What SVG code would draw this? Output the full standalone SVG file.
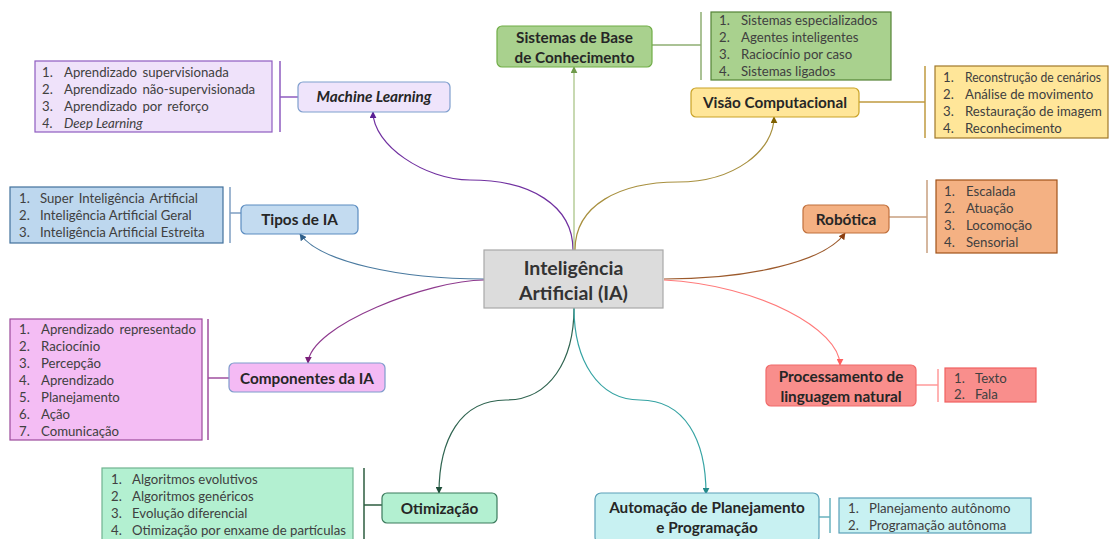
<svg xmlns="http://www.w3.org/2000/svg" width="1109" height="539" viewBox="0 0 1109 539">
<style>
.lbl{font-family:Lato,"Liberation Sans",sans-serif;font-weight:bold;font-size:15.3px;fill:#262626;text-anchor:middle;dominant-baseline:central}
.ctr{font-family:Lato,"Liberation Sans",sans-serif;font-weight:bold;font-size:19.5px;fill:#333;text-anchor:middle;dominant-baseline:central}
.it{font-family:Lato,"Liberation Sans",sans-serif;font-size:13.2px;fill:#404040;dominant-baseline:central}
.node{stroke-width:1.2}
.lst{stroke-width:1.2}
.sep{stroke-width:1.5;fill:none}
.con{fill:none;stroke-width:1.2}
</style>
<defs>
<marker id="aML" viewBox="0 0 10 10" refX="9" refY="5" markerWidth="7" markerHeight="7" orient="auto" markerUnits="userSpaceOnUse"><path d="M0,0 L10,5 L0,10 z" fill="#5a1f94"/></marker>
<marker id="aSB" viewBox="0 0 10 10" refX="9" refY="5" markerWidth="7" markerHeight="7" orient="auto" markerUnits="userSpaceOnUse"><path d="M0,0 L10,5 L0,10 z" fill="#6f9a4a"/></marker>
<marker id="aVC" viewBox="0 0 10 10" refX="9" refY="5" markerWidth="7" markerHeight="7" orient="auto" markerUnits="userSpaceOnUse"><path d="M0,0 L10,5 L0,10 z" fill="#7f6000"/></marker>
<marker id="aTI" viewBox="0 0 10 10" refX="9" refY="5" markerWidth="7" markerHeight="7" orient="auto" markerUnits="userSpaceOnUse"><path d="M0,0 L10,5 L0,10 z" fill="#2f5f8a"/></marker>
<marker id="aRO" viewBox="0 0 10 10" refX="9" refY="5" markerWidth="7" markerHeight="7" orient="auto" markerUnits="userSpaceOnUse"><path d="M0,0 L10,5 L0,10 z" fill="#8b3e10"/></marker>
<marker id="aCO" viewBox="0 0 10 10" refX="9" refY="5" markerWidth="7" markerHeight="7" orient="auto" markerUnits="userSpaceOnUse"><path d="M0,0 L10,5 L0,10 z" fill="#7a1f7a"/></marker>
<marker id="aPL" viewBox="0 0 10 10" refX="9" refY="5" markerWidth="7" markerHeight="7" orient="auto" markerUnits="userSpaceOnUse"><path d="M0,0 L10,5 L0,10 z" fill="#ff6060"/></marker>
<marker id="aOT" viewBox="0 0 10 10" refX="9" refY="5" markerWidth="7" markerHeight="7" orient="auto" markerUnits="userSpaceOnUse"><path d="M0,0 L10,5 L0,10 z" fill="#1f4f3a"/></marker>
<marker id="aAU" viewBox="0 0 10 10" refX="9" refY="5" markerWidth="7" markerHeight="7" orient="auto" markerUnits="userSpaceOnUse"><path d="M0,0 L10,5 L0,10 z" fill="#238a8a"/></marker>
</defs>
<rect width="1109" height="539" fill="#ffffff"/>

<g id="connectors">
<path class="con" stroke="#7030a0" d="M573 250 C573 205 530 180 470 180 C425 180 373 145 373 112" marker-end="url(#aML)"/>
<path class="con" stroke="#a3c07f" d="M574 250 L574 67" marker-end="url(#aSB)"/>
<path class="con" stroke="#a8903f" d="M575 250 C575 205 620 182 678 182 C735 182 774 150 774 117" marker-end="url(#aVC)"/>
<path class="con" stroke="#4a7aa0" d="M484 279 C400 279 320 262 300 234" marker-end="url(#aTI)"/>
<path class="con" stroke="#9c5a2c" d="M664 279 C748 279 825 262 845 233" marker-end="url(#aRO)"/>
<path class="con" stroke="#8e3a8e" d="M484 280 C430 280 310 325 308 363" marker-end="url(#aCO)"/>
<path class="con" stroke="#ff7a7a" d="M664 280 C760 285 840 330 840 365" marker-end="url(#aPL)"/>
<path class="con" stroke="#2f6450" d="M574 308 C574 360 550 400 506 400 C460 400 439 440 439 493" marker-end="url(#aOT)"/>
<path class="con" stroke="#35a3a3" d="M574 308 C574 360 598 400 640 400 C685 400 706 440 706 494" marker-end="url(#aAU)"/>
<path class="sep" stroke="#8e5cc0" d="M280 61 V132 M280 97 H298"/>
<path class="sep" stroke="#8fae73" d="M701 12 V80 M652 45 H701"/>
<path class="sep" stroke="#c09a40" d="M925 66 V138 M859 102 H925"/>
<path class="sep" stroke="#7f9fc2" d="M230 187 V243 M230 213 H241"/>
<path class="sep" stroke="#c8a080" d="M927 180 V253 M889 217 H927"/>
<path class="sep" stroke="#a050a0" d="M208 319 V440 M208 378 H229"/>
<path class="sep" stroke="#ff9a9a" d="M938 369 V402 M916 385 H938"/>
<path class="sep" stroke="#2e5e40" d="M364 468 V539 M364 505 H382"/>
<path class="sep" stroke="#6ab3bf" d="M830 498 V533 M819 517 H830"/>
</g>

<g id="center">
<rect x="484" y="250" width="179" height="58" fill="#dcdcdc" stroke="#a8a8a8" stroke-width="1.2"/>
<text class="ctr" x="573.5" y="267">Inteligência</text>
<text class="ctr" x="573.5" y="292">Artificial (IA)</text>
</g>

<g id="machine-learning">
<rect class="node" x="298" y="82" width="152" height="30" rx="5" fill="#efe4fb" stroke="#7f9fce"/>
<text class="lbl" x="374" y="96" font-style="italic">Machine Learning</text>
</g>
<g id="machine-learning-list">
<rect class="lst" x="35" y="61" width="237" height="71" fill="#efe2fa" stroke="#8e5cc0"/>
<text class="it" x="42" y="72">1.</text><text class="it" x="64" y="72" word-spacing="2">Aprendizado supervisionada</text>
<text class="it" x="42" y="89">2.</text><text class="it" x="64" y="89" word-spacing="2">Aprendizado não-supervisionada</text>
<text class="it" x="42" y="106">3.</text><text class="it" x="64" y="106" word-spacing="2">Aprendizado por reforço</text>
<text class="it" x="42" y="123" font-style="italic">4.</text><text class="it" x="64" y="123" font-style="italic">Deep Learning</text>
</g>

<g id="sistemas-base">
<rect class="node" x="497" y="26" width="155" height="41" rx="5" fill="#a9d18e" stroke="#70ad47"/>
<text class="lbl" x="574.5" y="36.5">Sistemas de Base</text>
<text class="lbl" x="574.5" y="56.5">de Conhecimento</text>
</g>
<g id="sistemas-base-list">
<rect class="lst" x="711" y="12" width="180" height="68" fill="#a9d18e" stroke="#548235"/>
<text class="it" x="719" y="20">1.</text><text class="it" x="741" y="20">Sistemas especializados</text>
<text class="it" x="719" y="37">2.</text><text class="it" x="741" y="37">Agentes inteligentes</text>
<text class="it" x="719" y="54">3.</text><text class="it" x="741" y="54">Raciocínio por caso</text>
<text class="it" x="719" y="71">4.</text><text class="it" x="741" y="71">Sistemas ligados</text>
</g>

<g id="visao-computacional">
<rect class="node" x="691" y="88" width="168" height="29" rx="5" fill="#ffe699" stroke="#c9a227"/>
<text class="lbl" x="775" y="102">Visão Computacional</text>
</g>
<g id="visao-computacional-list">
<rect class="lst" x="935" y="66" width="173" height="72" fill="#ffe699" stroke="#a0782a"/>
<text class="it" x="943" y="77">1.</text><text class="it" x="965" y="77" font-size="12.6px" textLength="136" lengthAdjust="spacingAndGlyphs">Reconstrução de cenários</text>
<text class="it" x="943" y="94">2.</text><text class="it" x="965" y="94">Análise de movimento</text>
<text class="it" x="943" y="111">3.</text><text class="it" x="965" y="111">Restauração de imagem</text>
<text class="it" x="943" y="128">4.</text><text class="it" x="965" y="128">Reconhecimento</text>
</g>

<g id="tipos-ia">
<rect class="node" x="241" y="205" width="117" height="29" rx="5" fill="#c3dbf0" stroke="#5b8cc0"/>
<text class="lbl" x="299.5" y="219">Tipos de IA</text>
</g>
<g id="tipos-ia-list">
<rect class="lst" x="10" y="187" width="213" height="56" fill="#bdd7ee" stroke="#41719c"/>
<text class="it" x="19" y="198">1.</text><text class="it" x="40" y="198" word-spacing="2">Super Inteligência Artificial</text>
<text class="it" x="19" y="215">2.</text><text class="it" x="40" y="215">Inteligência Artificial Geral</text>
<text class="it" x="19" y="232">3.</text><text class="it" x="40" y="232">Inteligência Artificial Estreita</text>
</g>

<g id="robotica">
<rect class="node" x="803" y="205" width="86" height="28" rx="5" fill="#f4b183" stroke="#c0703c"/>
<text class="lbl" x="846" y="218.5">Robótica</text>
</g>
<g id="robotica-list">
<rect class="lst" x="936" y="180" width="121" height="73" fill="#f4b183" stroke="#a0521a"/>
<text class="it" x="944" y="191">1.</text><text class="it" x="966" y="191">Escalada</text>
<text class="it" x="944" y="208">2.</text><text class="it" x="966" y="208">Atuação</text>
<text class="it" x="944" y="225">3.</text><text class="it" x="966" y="225">Locomoção</text>
<text class="it" x="944" y="242">4.</text><text class="it" x="966" y="242">Sensorial</text>
</g>

<g id="componentes-ia">
<rect class="node" x="229" y="363" width="156" height="29" rx="5" fill="#f4baf4" stroke="#7f9ccc"/>
<text class="lbl" x="307" y="377.5">Componentes da IA</text>
</g>
<g id="componentes-ia-list">
<rect class="lst" x="10" y="319" width="192" height="121" fill="#f4bdf4" stroke="#9b4a9b"/>
<text class="it" x="19" y="329">1.</text><text class="it" x="41" y="329" word-spacing="2">Aprendizado representado</text>
<text class="it" x="19" y="346">2.</text><text class="it" x="41" y="346">Raciocínio</text>
<text class="it" x="19" y="363">3.</text><text class="it" x="41" y="363">Percepção</text>
<text class="it" x="19" y="380">4.</text><text class="it" x="41" y="380">Aprendizado</text>
<text class="it" x="19" y="397">5.</text><text class="it" x="41" y="397">Planejamento</text>
<text class="it" x="19" y="414">6.</text><text class="it" x="41" y="414">Ação</text>
<text class="it" x="19" y="431">7.</text><text class="it" x="41" y="431">Comunicação</text>
</g>

<g id="processamento-linguagem">
<rect class="node" x="766" y="365" width="150" height="41" rx="5" fill="#f98e8c" stroke="#f06a6a"/>
<text class="lbl" x="841" y="376">Processamento de</text>
<text class="lbl" x="841" y="395.5">linguagem natural</text>
</g>
<g id="processamento-linguagem-list">
<rect class="lst" x="945" y="368" width="91" height="34" fill="#f98e8c" stroke="#f06060"/>
<text class="it" x="954" y="378">1.</text><text class="it" x="975" y="378">Texto</text>
<text class="it" x="954" y="394">2.</text><text class="it" x="975" y="394">Fala</text>
</g>

<g id="otimizacao">
<rect class="node" x="382" y="493" width="115" height="30" rx="5" fill="#b3f0d1" stroke="#3b7a5c"/>
<text class="lbl" x="439.5" y="507.5">Otimização</text>
</g>
<g id="otimizacao-list">
<rect class="lst" x="102" y="468" width="251" height="80" fill="#b3f0d1" stroke="#6fb38f"/>
<text class="it" x="111" y="479">1.</text><text class="it" x="132" y="479">Algoritmos evolutivos</text>
<text class="it" x="111" y="496">2.</text><text class="it" x="132" y="496">Algoritmos genéricos</text>
<text class="it" x="111" y="513">3.</text><text class="it" x="132" y="513">Evolução diferencial</text>
<text class="it" x="111" y="530">4.</text><text class="it" x="132" y="530">Otimização por enxame de partículas</text>
</g>

<g id="automacao-planejamento">
<rect class="node" x="595" y="493" width="224" height="50" rx="6" fill="#c8f1f2" stroke="#5aa0b8"/>
<text class="lbl" x="707" y="506.5">Automação de Planejamento</text>
<text class="lbl" x="707" y="526.5">e Programação</text>
</g>
<g id="automacao-planejamento-list">
<rect class="lst" x="839" y="498" width="192" height="35" fill="#c8f1f2" stroke="#5aa0b8"/>
<text class="it" x="848" y="508">1.</text><text class="it" x="869" y="508">Planejamento autônomo</text>
<text class="it" x="848" y="525">2.</text><text class="it" x="869" y="525">Programação autônoma</text>
</g>
</svg>
